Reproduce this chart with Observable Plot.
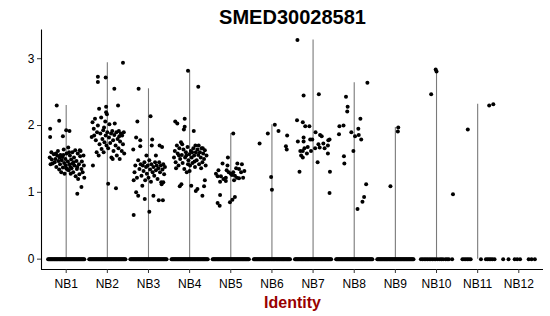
<!DOCTYPE html>
<html><head><meta charset="utf-8">
<script src="https://cdn.jsdelivr.net/npm/d3@7"></script>
<script src="https://cdn.jsdelivr.net/npm/@observablehq/plot@0.6"></script>
<style>body{margin:0;background:#fff}</style>
</head><body><div id="chart"></div>
<script>
const title = "SMED30028581";
const xLabel = "Identity";
const identities = ["NB1","NB2","NB3","NB4","NB5","NB6","NB7","NB8","NB9","NB10","NB11","NB12"];
const yTicks = [0, 1, 2, 3];

// expressing cells: [jitter offset within the group, expression value]
const nb1 = [[-0.23,2.30],[-0.39,1.95],[-0.39,1.83],[-0.17,2.07],[-0.08,1.84],[0.00,1.93],[0.08,1.92],[0.27,0.98],[0.37,1.08],
  [-0.40,1.52],[-0.36,1.60],[-0.33,1.43],[-0.30,1.57],[-0.28,1.45],[-0.26,1.50],[-0.24,1.38],[-0.22,1.55],[-0.20,1.62],[-0.19,1.47],
  [-0.17,1.34],[-0.15,1.42],[-0.14,1.56],[-0.12,1.30],[-0.11,1.48],[-0.09,1.53],[-0.08,1.37],[-0.06,1.64],[-0.05,1.44],[-0.04,1.28],
  [-0.02,1.50],[-0.01,1.40],[0.01,1.58],[0.02,1.35],[0.04,1.46],[0.05,1.67],[0.06,1.33],[0.08,1.42],[0.09,1.55],[0.10,1.38],
  [0.12,1.49],[0.13,1.36],[0.15,1.60],[0.16,1.43],[0.17,1.30],[0.19,1.52],[0.20,1.40],[0.22,1.63],[0.23,1.24],[0.25,1.47],
  [0.26,1.35],[0.28,1.58],[0.29,1.20],[0.31,1.42],[0.32,1.27],[0.34,1.54],[0.35,1.62],[0.37,1.35],[0.38,1.46],[0.40,1.30],
  [0.42,1.55],[0.43,1.40],[0.44,1.22],[-0.38,1.42],[-0.35,1.49],[0.00,1.36],[0.07,1.60],[0.18,1.45],[-0.07,1.56],[0.27,1.38],
  [0.33,1.63],[-0.25,1.58],[0.11,1.28],[-0.16,1.52]];
const nb2 = [[0.38,2.94],[-0.23,2.73],[-0.23,2.65],[-0.04,2.72],[0.17,2.55],[-0.20,2.25],[-0.03,2.28],[-0.03,2.20],[-0.01,2.17],
  [0.26,2.30],[0.02,1.13],[0.21,1.06],[-0.35,1.40],
  [-0.38,1.83],[-0.36,2.05],[-0.33,1.95],[-0.30,2.10],[-0.28,1.78],[-0.26,1.60],[-0.25,1.90],[-0.23,2.00],[-0.21,1.55],[-0.19,1.72],
  [-0.17,1.88],[-0.15,2.12],[-0.14,1.65],[-0.12,1.80],[-0.10,1.93],[-0.09,1.60],[-0.07,1.75],[-0.05,2.06],[-0.04,1.85],[-0.02,1.70],
  [0.00,1.90],[0.02,1.66],[0.04,1.82],[0.05,2.02],[0.07,1.74],[0.09,1.88],[0.10,1.52],[0.12,1.92],[0.14,1.78],[0.15,1.62],
  [0.17,1.86],[0.18,2.03],[0.20,1.70],[0.22,1.90],[0.23,1.55],[0.25,1.80],[0.27,1.66],[0.28,1.92],[0.30,1.50],[0.31,1.76],
  [0.33,1.88],[0.35,1.62],[0.36,1.85],[0.38,1.72],[0.40,1.90],[0.41,1.58],[-0.32,1.85],[0.13,1.50],[-0.08,1.97],[0.29,1.84]];
const nb3 = [[-0.24,2.55],[0.05,2.14],[-0.27,2.06],[-0.36,0.66],[0.02,0.71],[0.25,0.88],[0.35,0.88],[-0.30,1.00],[-0.25,0.95],
  [-0.09,0.90],[0.12,0.95],
  [-0.37,1.64],[-0.30,1.82],[-0.20,1.78],[-0.20,1.69],[0.09,1.79],[0.08,1.70],[0.27,1.70],[0.33,1.68],[-0.34,1.30],[-0.32,1.40],
  [-0.28,1.22],[-0.25,1.48],[-0.22,1.35],[-0.19,1.42],[-0.17,1.25],[-0.14,1.40],[-0.12,1.32],[-0.10,1.45],[-0.08,1.18],[-0.06,1.38],
  [-0.04,1.28],[-0.02,1.40],[0.00,1.22],[0.02,1.48],[0.04,1.34],[0.06,1.16],[0.07,1.42],[0.10,1.30],[0.12,1.38],[0.14,1.25],
  [0.16,1.45],[0.18,1.33],[0.20,1.40],[0.22,1.20],[0.24,1.36],[0.26,1.45],[0.28,1.30],[0.30,1.40],[0.32,1.12],[0.34,1.34],
  [0.36,1.42],[0.38,1.27],[0.40,1.38],[-0.36,1.18],[0.31,1.15],[0.36,1.15],[-0.15,1.10],[0.18,1.55],[-0.05,1.55]];
const nb4 = [[-0.04,2.82],[0.21,2.58],[-0.35,2.06],[-0.30,2.03],[-0.12,2.10],[-0.12,1.98],[-0.14,1.94],[0.10,1.92],[-0.20,1.12],
  [-0.24,1.09],[0.04,1.10],[0.15,1.02],[0.19,1.05],[0.31,0.95],[0.37,1.18],[0.35,1.09],
  [-0.38,1.52],[-0.36,1.62],[-0.34,1.45],[-0.31,1.70],[-0.29,1.58],[-0.27,1.40],[-0.25,1.66],[-0.23,1.50],[-0.21,1.75],[-0.19,1.56],
  [-0.17,1.44],[-0.15,1.64],[-0.13,1.35],[-0.11,1.52],[-0.09,1.60],[-0.07,1.30],[-0.05,1.68],[-0.03,1.48],[-0.01,1.57],[0.01,1.40],
  [0.03,1.62],[0.05,1.52],[0.07,1.44],[0.09,1.66],[0.11,1.55],[0.13,1.38],[0.15,1.60],[0.17,1.48],[0.19,1.64],[0.21,1.56],
  [0.23,1.42],[0.25,1.60],[0.27,1.52],[0.29,1.66],[0.31,1.45],[0.33,1.58],[0.35,1.50],[0.37,1.63],[0.39,1.40],[0.41,1.55],
  [-0.33,1.36],[-0.18,1.72],[0.00,1.32],[0.14,1.70],[0.28,1.36],[-0.08,1.55],[0.06,1.60],[0.22,1.70],[0.32,1.66],[-0.26,1.55],
  [0.12,1.46],[-0.04,1.42]];
const nb5 = [[0.06,1.88],[-0.07,1.52],[-0.20,1.43],[-0.30,1.33],[0.16,1.43],[0.27,1.42],[-0.32,1.24],[-0.24,1.24],[-0.12,1.17],
  [-0.26,1.16],[0.00,1.28],[0.06,1.30],[0.13,1.36],[0.25,1.30],[0.30,1.22],[0.20,1.21],[-0.26,0.96],[-0.32,0.84],[-0.27,0.80],
  [-0.02,0.85],[0.04,0.89],[0.10,0.93],[-0.10,1.33],[-0.05,1.30],[0.03,1.26],[0.10,1.25],[-0.12,1.22],[0.15,1.22],[-0.36,1.28],
  [0.33,1.32],[-0.18,1.20],[0.08,1.18],[-0.08,1.40],[0.20,1.35]];
const nb6 = [[-0.30,1.73],[-0.10,1.88],[0.07,2.01],[0.16,1.92],[0.37,1.85],[0.34,1.69],[0.36,1.64],[-0.02,1.23],[0.00,1.04]];
const nb7 = [[-0.38,3.28],[-0.23,2.45],[0.14,2.47],[-0.39,2.08],[-0.25,2.05],[-0.19,1.99],[-0.09,1.99],[0.06,1.90],[0.17,1.86],
  [0.21,1.84],[-0.37,1.76],[-0.23,1.82],[-0.23,1.76],[-0.07,1.79],[-0.02,1.79],[0.13,1.72],[0.25,1.73],[0.37,1.78],[0.40,1.79],
  [0.36,1.70],[-0.31,1.62],[-0.25,1.62],[-0.29,1.55],[-0.25,1.52],[-0.13,1.68],[-0.05,1.62],[-0.21,1.66],[0.11,1.45],[-0.33,1.31],
  [0.16,1.67],[0.36,1.58],[0.41,1.31],[0.40,0.99],[0.05,1.66],[0.28,1.66],[-0.15,1.58]];
const nb8 = [[0.32,2.64],[-0.20,2.43],[-0.16,2.28],[-0.17,2.21],[0.15,2.10],[-0.36,1.99],[-0.26,2.00],[-0.07,1.90],[0.10,1.95],
  [0.11,1.86],[0.02,1.84],[0.17,1.79],[-0.37,1.87],[-0.02,1.62],[-0.25,1.54],[-0.24,1.43],[0.29,1.12],[0.24,0.93],[0.20,0.86],[0.08,0.75]];
const nb9 = [[-0.12,1.09],[0.07,1.97],[0.06,1.91]];
const nb10 = [[-0.02,2.84],[0.00,2.81],[-0.13,2.47],[0.40,0.97]];
const nb11 = [[-0.24,1.94],[0.28,2.30],[0.38,2.32]];
const nb12 = [];

// jitter offsets of the zero-expression cells (a solid band for NB1-NB9)
const zeroBand = [-0.44,-0.42,-0.40,-0.38,-0.36,-0.34,-0.32,-0.30,-0.28,-0.26,-0.24,-0.22,-0.20,-0.18,-0.16,-0.14,-0.12,-0.10,
  -0.08,-0.06,-0.04,-0.02,0.00,0.02,0.04,0.06,0.08,0.10,0.12,0.14,0.16,0.18,0.20,0.22,0.24,0.26,0.28,0.30,0.32,0.34,0.36,0.38,0.40,0.42,0.44];
const zeroNB10 = [-0.38,-0.34,-0.30,-0.26,-0.22,-0.18,-0.14,-0.10,-0.06,-0.02,0.03,0.08,0.12,0.16,0.22,0.26,0.30,0.38];
const zeroNB11 = [-0.37,-0.33,-0.29,-0.25,-0.21,-0.17,0.08,0.20,0.24,0.28,0.32,0.36,0.41];
const zeroNB12 = [-0.38,-0.25,-0.10,-0.04,0.03,0.24,0.31,0.39];

const expressed = [nb1,nb2,nb3,nb4,nb5,nb6,nb7,nb8,nb9,nb10,nb11,nb12];
const zeroJitter = [zeroBand,zeroBand,zeroBand,zeroBand,zeroBand,zeroBand,zeroBand,zeroBand,zeroBand,zeroNB10,zeroNB11,zeroNB12];

const points = [];
const violins = [];
identities.forEach((id, i) => {
  zeroJitter[i].forEach(o => points.push({x: i + 1 + o, y: 0}));
  expressed[i].forEach(([o, v]) => points.push({x: i + 1 + o, y: v}));
  if (expressed[i].length) violins.push({x: i + 1, max: d3.max(expressed[i], d => d[1])});
});

const xDomain = [0.4, identities.length + 0.6];
const yDomain = [-0.155, 3.43];

const chart = Plot.plot({
  width: 550,
  height: 316,
  marginLeft: 41,
  marginRight: 7,
  marginTop: 29.5,
  marginBottom: 47,
  style: {fontFamily: "'Liberation Sans', Arial, sans-serif", background: "#fff", color: "#000"},
  x: {type: "linear", domain: xDomain},
  y: {domain: yDomain},
  marks: [
    Plot.ruleX(violins, {x: "x", y1: 0, y2: "max", stroke: "#7a7a7a", strokeWidth: 1.1}),
    Plot.dot(points, {x: "x", y: "y", r: 2, fill: "#000", stroke: "none"}),
    Plot.ruleX([xDomain[0]], {stroke: "#000", strokeWidth: 1.1}),
    Plot.ruleY([yDomain[0]], {stroke: "#000", strokeWidth: 1.1}),
    Plot.axisX(d3.range(1, identities.length + 1), {tickFormat: i => identities[i - 1], tickSize: 4, tickPadding: 6, fontSize: 12, label: null, stroke: "#333"}),
    Plot.axisY(yTicks, {tickFormat: d => String(d), tickSize: 4, tickPadding: 3, fontSize: 12, label: null, stroke: "#333"}),
    Plot.text([title], {frameAnchor: "top", lineAnchor: "bottom", dy: -6.5, fontSize: 20, fontWeight: "bold", fill: "#000"}),
    Plot.text([xLabel], {frameAnchor: "bottom", lineAnchor: "bottom", dy: 38.5, fontSize: 16, fontWeight: "bold", fill: "#990000"})
  ]
});
document.getElementById("chart").append(chart);
</script>
</body></html>
